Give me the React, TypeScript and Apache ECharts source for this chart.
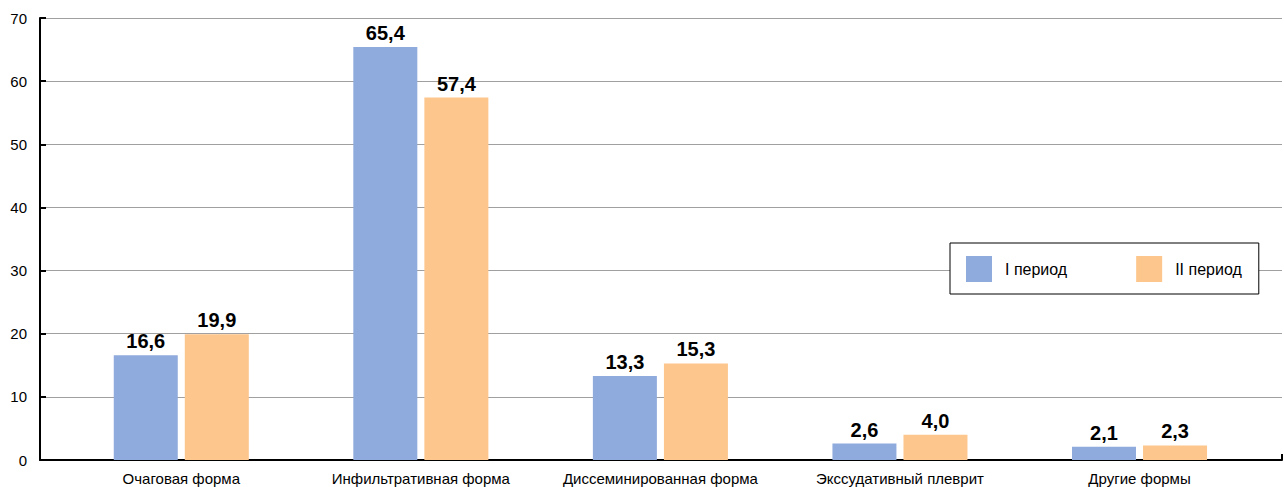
import React, { useEffect, useRef } from "react";
import * as echarts from "echarts";

const categories = [
  "Очаговая форма",
  "Инфильтративная форма",
  "Диссеминированная форма",
  "Экссудативный плеврит",
  "Другие формы",
];
const period1 = [16.6, 65.4, 13.3, 2.6, 2.1];
const period2 = [19.9, 57.4, 15.3, 4.0, 2.3];
const seriesNames = ["I период", "II период"];
const yTicks = { min: 0, max: 70, interval: 10 };

const FONT = "'Liberation Sans', Arial, Helvetica, sans-serif";
const fmt = (v: number) => v.toFixed(1).replace(".", ",");

export default function App() {
  const ref = useRef<HTMLDivElement>(null);

  useEffect(() => {
    document.body.style.margin = "0";
    if (!ref.current) return;
    const chart = echarts.init(ref.current, undefined, { renderer: "svg" });

    const barLabel = {
      show: true,
      position: "top" as const,
      distance: 4,
      color: "#000",
      fontSize: 20,
      fontWeight: "bold" as const,
      fontFamily: FONT,
      formatter: (p: any) => fmt(p.value),
    };

    chart.setOption({
      animation: false,
      backgroundColor: "#fff",
      textStyle: { fontFamily: FONT },
      grid: [
        { left: 40, right: 2, top: 18, bottom: 27 },
        { left: 61.5, right: 24.7, top: 18, bottom: 27 },
      ],
      legend: {
        data: seriesNames,
        left: 950,
        top: 243,
        orient: "horizontal",
        icon: "rect",
        itemWidth: 26,
        itemHeight: 26,
        itemGap: 69,
        padding: [13, 17, 12, 16],
        backgroundColor: "#fff",
        borderColor: "#000",
        borderWidth: 1,
        textStyle: {
          color: "#000",
          fontSize: 16,
          fontFamily: FONT,
          padding: [0, 0, 0, 8],
        },
      },
      xAxis: [
        {
          gridIndex: 0,
          type: "value",
          min: 0,
          max: 1,
          interval: 1,
          axisLine: { show: true, lineStyle: { color: "#000", width: 2 } },
          axisTick: {
            show: true,
            inside: true,
            length: 6,
            lineStyle: { color: "#000", width: 2 },
          },
          axisLabel: { show: false },
          splitLine: { show: false },
        },
        {
          gridIndex: 1,
          type: "category",
          data: categories,
          axisLine: { show: false },
          axisTick: { show: false },
          axisLabel: {
            color: "#000",
            fontSize: 15,
            fontFamily: FONT,
            margin: 11,
            interval: 0,
          },
        },
      ],
      yAxis: [
        {
          gridIndex: 0,
          type: "value",
          ...yTicks,
          axisLine: { show: true, lineStyle: { color: "#000", width: 2 } },
          axisTick: {
            show: true,
            inside: true,
            length: 6,
            lineStyle: { color: "#000", width: 2 },
          },
          axisLabel: { color: "#000", fontSize: 15, fontFamily: FONT, margin: 13 },
          splitLine: { show: true, lineStyle: { color: "#a0a0a0", width: 1 } },
        },
        {
          gridIndex: 1,
          type: "value",
          ...yTicks,
          show: false,
          splitLine: { show: false },
        },
      ],
      series: [
        {
          name: seriesNames[0],
          type: "bar",
          xAxisIndex: 1,
          yAxisIndex: 1,
          data: period1,
          barWidth: 64,
          barGap: "11%",
          itemStyle: { color: "#8faadc" },
          label: barLabel,
        },
        {
          name: seriesNames[1],
          type: "bar",
          xAxisIndex: 1,
          yAxisIndex: 1,
          data: period2,
          barWidth: 64,
          barGap: "11%",
          itemStyle: { color: "#fdc68c" },
          label: barLabel,
        },
      ],
    });

    return () => chart.dispose();
  }, []);

  return <div ref={ref} style={{ width: 1284, height: 487 }} />;
}
